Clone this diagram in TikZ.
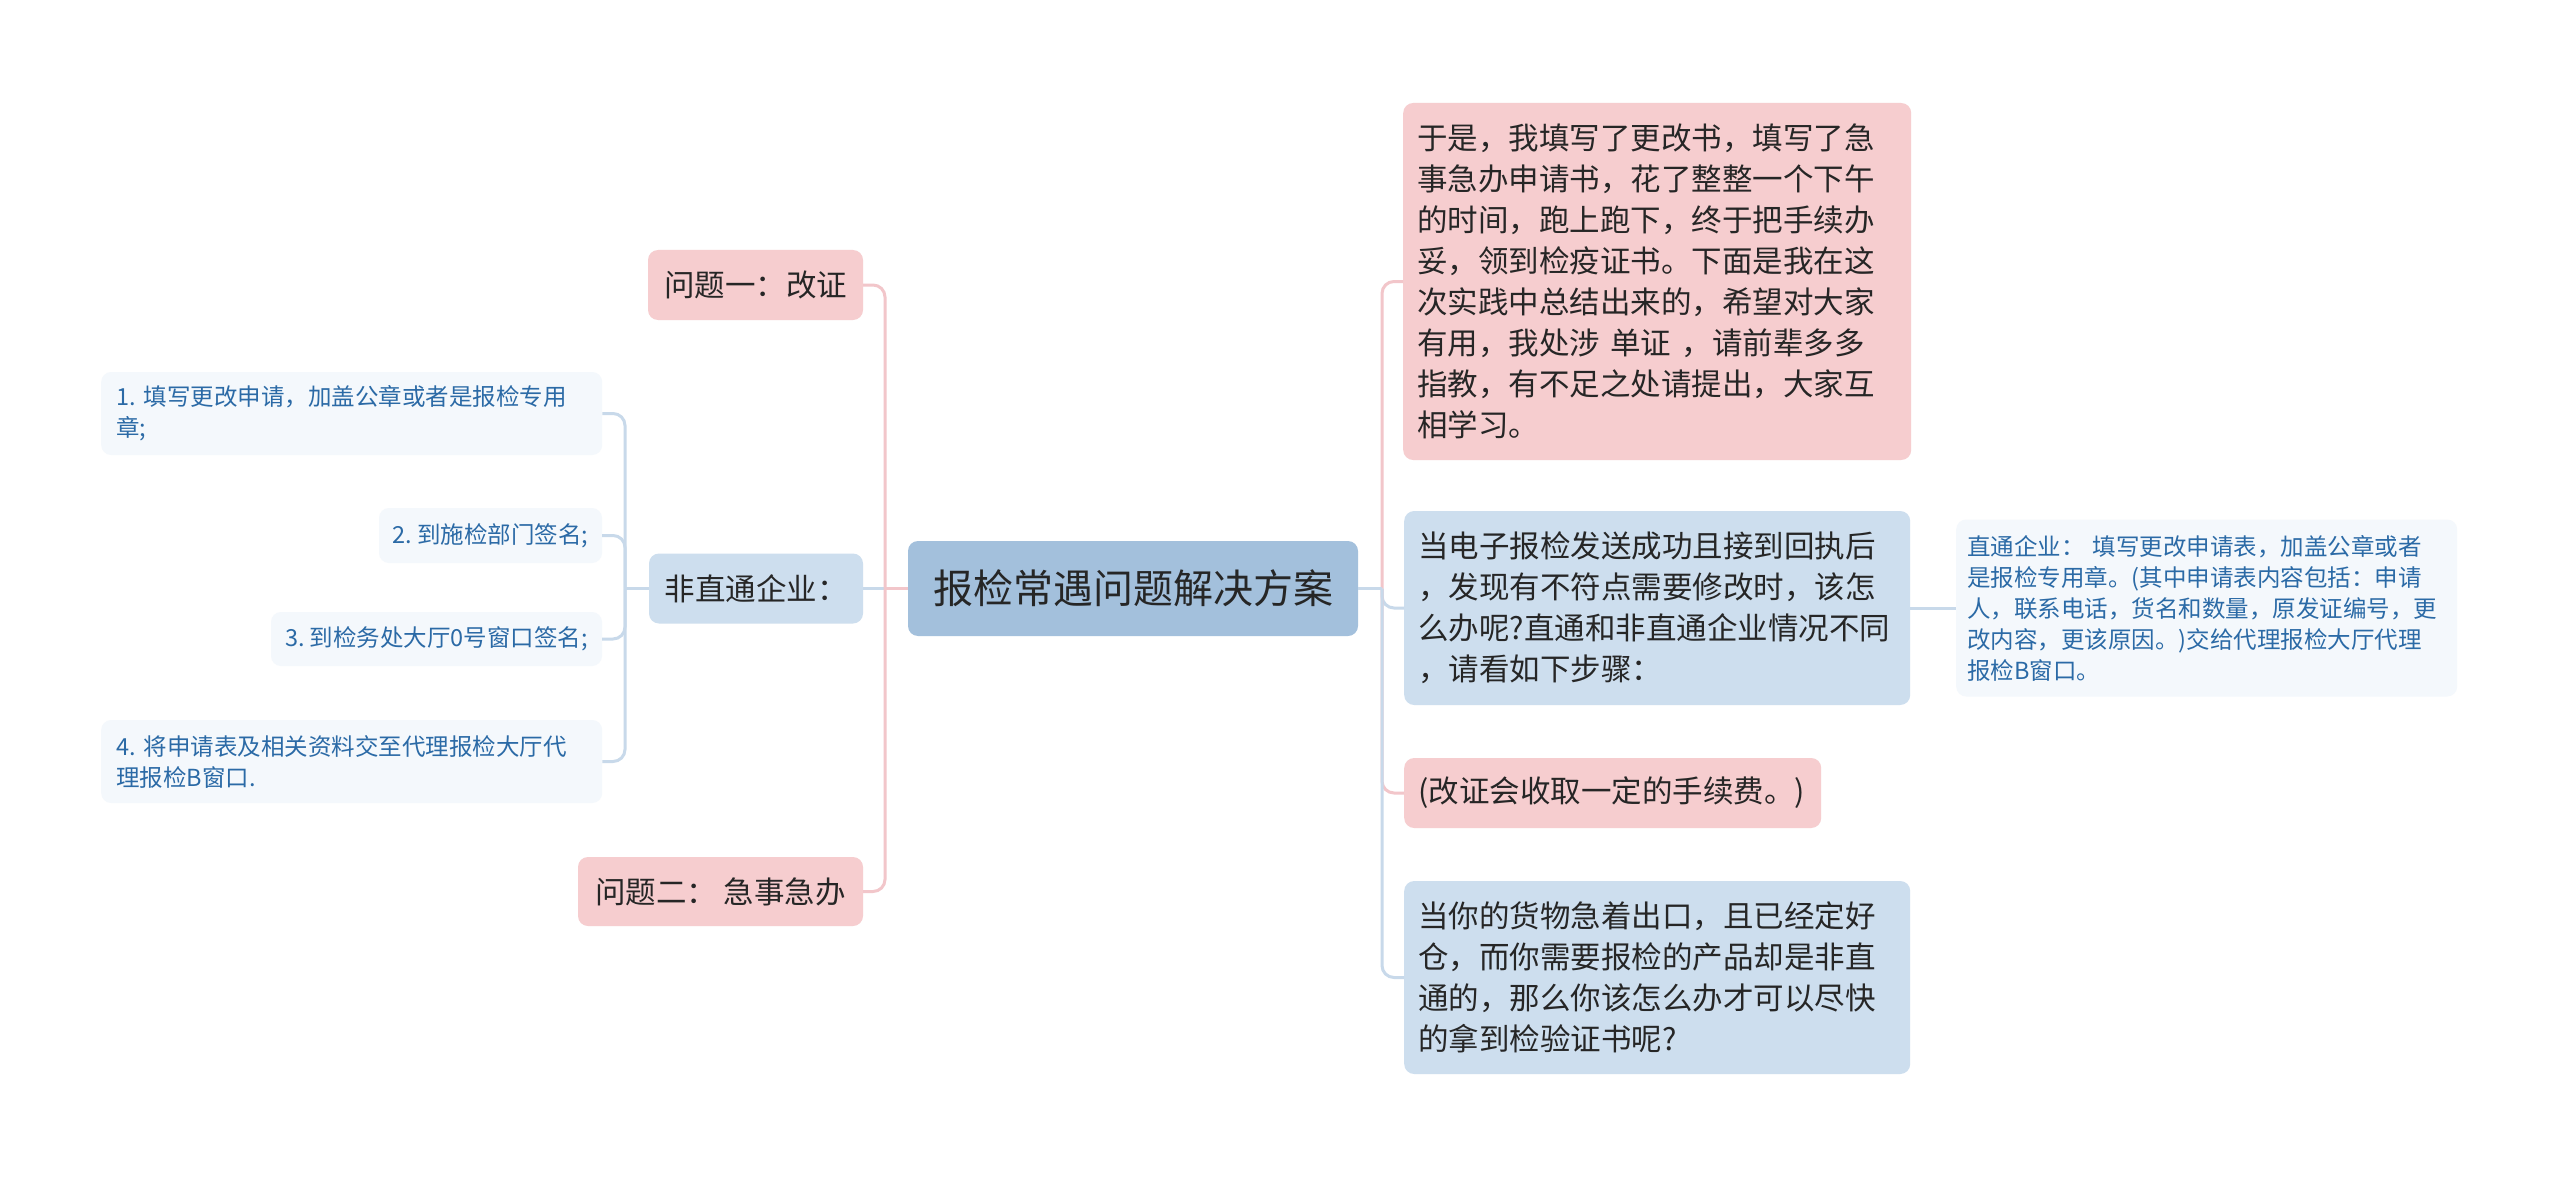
\documentclass[tikz,border=0pt]{standalone}
\usepackage{fontspec}
\setmainfont{Noto Sans CJK SC}
\frenchspacing
\definecolor{rootfill}{RGB}{163,192,220}
\definecolor{pinkfill}{RGB}{246,205,207}
\definecolor{bluefill}{RGB}{205,222,238}
\definecolor{leaffill}{RGB}{244,248,252}
\definecolor{leaftext}{RGB}{43,106,166}
\definecolor{txtdark}{RGB}{38,38,38}
\definecolor{pinkedge}{RGB}{242,198,202}
\definecolor{blueedge}{RGB}{200,217,234}
\begin{document}
\begin{tikzpicture}[x=1pt,y=-1pt,
  box/.style={rounded corners=10pt, inner sep=0pt, text=txtdark},
  rootbox/.style={box, fill=rootfill, font=\fontsize{40}{48}\selectfont},
  pinkbox/.style={box, fill=pinkfill, font=\fontsize{30.5}{41}\selectfont},
  bluebox/.style={box, fill=bluefill, font=\fontsize{30.5}{41}\selectfont},
  leafbox/.style={box, fill=leaffill, text=leaftext, font=\fontsize{23.5}{31}\selectfont},
  para/.style={anchor=west, align=left, inner xsep=14pt},
  pinklink/.style={draw=pinkedge, line width=3pt, rounded corners=12pt},
  bluelink/.style={draw=blueedge, line width=3pt, rounded corners=12pt}]
\fill[white] (0,0) rectangle (2560,1177);
\useasboundingbox (0,0) rectangle (2560,1177);

% centre
\node[rootbox, minimum width=450pt, minimum height=95pt] (root) at (1133,588.5) {报检常遇问题解决方案};

% left side
\node[pinkbox, minimum width=215pt, minimum height=70pt] (q1) at (755.5,285) {问题一：改证};
\node[bluebox, minimum width=214pt, minimum height=70pt] (nz) at (756,588.5) {非直通企业：};
\node[pinkbox, minimum width=285pt, minimum height=69pt] (q2) at (720.5,891.5) {问题二：\ 急事急办};

\node[leafbox, para, inner xsep=15pt, text width=471pt, minimum height=83pt] (s1) at (101,413.5)
  {1. 填写更改申请，加盖公章或者是报检专用\\章;};
\node[leafbox, minimum width=223pt, minimum height=55pt] (s2) at (490.5,535.5) {2. 到施检部门签名;};
\node[leafbox, minimum width=331pt, minimum height=54pt] (s3) at (436.5,639) {3. 到检务处大厅0号窗口签名;};
\node[leafbox, para, inner xsep=15pt, text width=471pt, minimum height=83pt] (s4) at (101,761.5)
  {4. 将申请表及相关资料交至代理报检大厅代\\理报检B窗口.};

% right side
\node[pinkbox, para, text width=480pt, minimum height=357pt] (a) at (1403,281.5)
  {于是，我填写了更改书，填写了急\\
   事急办申请书，花了整整一个下午\\
   的时间，跑上跑下，终于把手续办\\
   妥，领到检疫证书。下面是我在这\\
   次实践中总结出来的，希望对大家\\
   有用，我处涉 单证 ，请前辈多多\\
   指教，有不足之处请提出，大家互\\
   相学习。};
\node[bluebox, para, text width=478pt, minimum height=194pt] (b) at (1404,608)
  {当电子报检发送成功且接到回执后\\
   ，发现有不符点需要修改时，该怎\\
   么办呢?直通和非直通企业情况不同\\
   ，请看如下步骤：};
\node[leafbox, para, inner xsep=11pt, text width=479pt, minimum height=177pt] (c) at (1956,608)
  {直通企业：\ 填写更改申请表，加盖公章或者\\
   是报检专用章。(其中申请表内容包括：申请\\
   人，联系电话，货名和数量，原发证编号，更\\
   改内容，更该原因。)交给代理报检大厅代理\\
   报检B窗口。};
\node[pinkbox, para, text width=389pt, minimum height=70pt] (d) at (1404,793) {(改证会收取一定的手续费。)};
\node[bluebox, para, text width=478pt, minimum height=193pt] (e) at (1404,977.5)
  {当你的货物急着出口，且已经定好\\
   仓，而你需要报检的产品却是非直\\
   通的，那么你该怎么办才可以尽快\\
   的拿到检验证书呢?};

\coordinate (lj) at (885,588.5);
\coordinate (nj) at (625,588.5);
\coordinate (rj) at (1382,588.5);

\draw[bluelink] (nz.east) -- (lj);
\draw[pinklink] (root.west) -- (lj);
\draw[pinklink] (lj) |- (q1.east);
\draw[pinklink] (lj) |- (q2.east);

\draw[bluelink] (nz.west) -- (nj);
\draw[bluelink] (nj) |- (s1.east);
\draw[bluelink] (nj) |- (s2.east);
\draw[bluelink] (nj) |- (s3.east);
\draw[bluelink] (nj) |- (s4.east);

\draw[pinklink] (rj) |- (a.west);
\draw[bluelink] (rj) |- (b.west);
\draw[pinklink] (rj) |- (d.west);
\draw[bluelink] (rj) |- (e.west);
\draw[bluelink] (root.east) -- (rj);
\draw[bluelink] (b.east) -- (c.west);
\end{tikzpicture}
\end{document}
